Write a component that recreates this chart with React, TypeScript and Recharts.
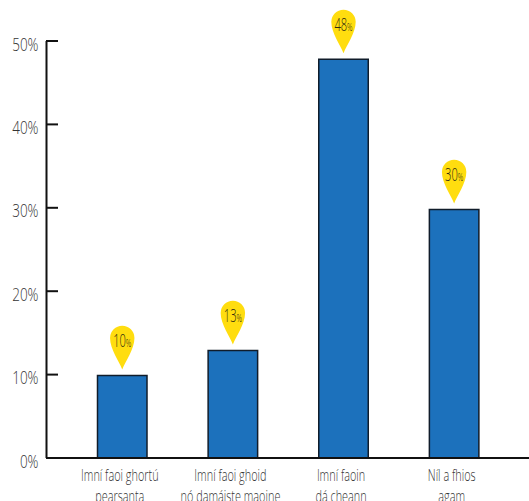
import React from "react";
import { BarChart, Bar, XAxis, YAxis } from "recharts";

const categories: string[][] = [
  ["Imní faoi ghortú", "pearsanta"],
  ["Imní faoi ghoid", "nó damáiste maoine"],
  ["Imní faoin", "dá cheann"],
  ["Níl a fhios", "agam"],
];
const values: number[] = [9.9, 12.9, 47.8, 29.8];
const yTicks: number[] = [0, 10, 20, 30, 40, 50];

const rows = categories.map((c, i) => ({ key: c.join("|"), value: values[i] }));
const FONT = '"Open Sans", sans-serif';

const XTick = (p: any) => {
  const lines = String(p.payload.value).split("|");
  return (
    <g>
      {lines.map((l: string, i: number) => (
        <text
          key={i}
          transform={`translate(${p.x - 2},${481 + i * 21}) scale(0.66,1)`}
          textAnchor="middle"
          fontFamily={FONT}
          fontWeight={300}
          fontSize={16.5}
          fill="#333"
        >
          {l}
        </text>
      ))}
    </g>
  );
};

const YTick = (p: any) => (
  <g>
    <line x1={46} x2={58} y1={p.y} y2={p.y} stroke="#111" strokeWidth={2} />
    <text
      transform={`translate(38.5,${p.y + 9.5}) scale(0.75,1)`}
      textAnchor="end"
      fontFamily={FONT}
      fontWeight={300}
      fontSize={18}
      fill="#333"
    >
      {`${p.payload.value}%`}
    </text>
  </g>
);

const Pin = (p: any) => {
  const cx = p.x + p.width / 2;
  const tip = p.y - 6;
  const cy = tip - 31.5;
  const r = 12.2;
  return (
    <g>
      <path
        d={`M ${cx} ${tip} C ${cx - 3} ${tip - 8} ${cx - r} ${cy + 11} ${cx - r} ${cy} A ${r} ${r} 0 1 1 ${cx + r} ${cy} C ${cx + r} ${cy + 11} ${cx + 3} ${tip - 8} ${cx} ${tip} Z`}
        fill="#ffdd0f"
      />
      <text
        transform={`translate(${cx},${cy + 9}) scale(0.62,1)`}
        textAnchor="middle"
        fontFamily={FONT}
        fontWeight={300}
        fontSize={18}
        fill="#2e2a10"
      >
        {Math.round(p.value)}
        <tspan fontSize={11}>%</tspan>
      </text>
    </g>
  );
};

export default function App() {
  return (
    <div style={{ position: "absolute", left: 0, top: 0, width: 529, height: 501, overflow: "hidden" }}>
      <BarChart
        width={529}
        height={501}
        data={rows}
        margin={{ top: 41, right: 0, bottom: 0, left: 0 }}
        barCategoryGap={0}
      >
        <XAxis
          dataKey="key"
          height={43}
          interval={0}
          padding={{ left: 20, right: 20 }}
          tick={<XTick />}
          tickLine={false}
          axisLine={{ stroke: "#111", strokeWidth: 2 }}
        />
        <YAxis
          width={46.5}
          domain={[0, 50]}
          ticks={yTicks}
          interval={0}
          tick={<YTick />}
          tickLine={false}
          axisLine={{ stroke: "#111", strokeWidth: 2 }}
        />
        <Bar
          dataKey="value"
          barSize={49.5}
          fill="#1c71bc"
          stroke="#101c2a"
          strokeWidth={1.5}
          isAnimationActive={false}
          label={<Pin />}
        />
      </BarChart>
    </div>
  );
}
